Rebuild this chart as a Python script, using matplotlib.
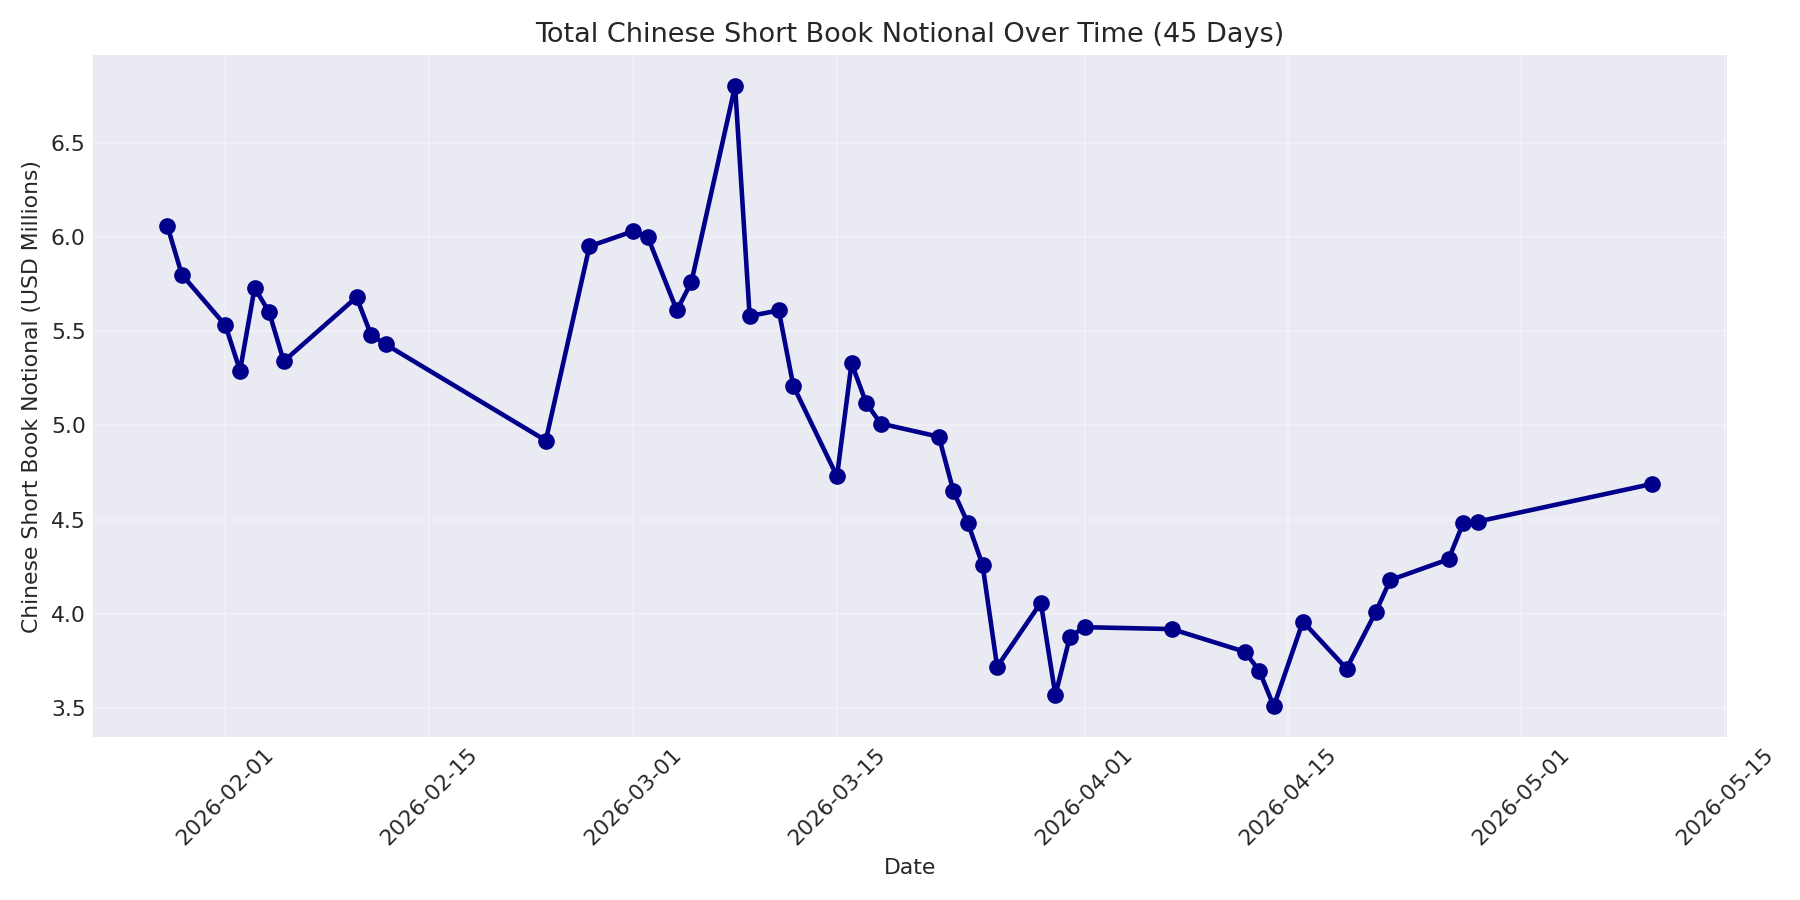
import matplotlib
matplotlib.use("Agg")
import matplotlib.pyplot as plt
import matplotlib.dates as mdates
import pandas as pd

dates = [
    "2026-01-28", "2026-01-29", "2026-02-01", "2026-02-02", "2026-02-03",
    "2026-02-04", "2026-02-05", "2026-02-10", "2026-02-11", "2026-02-12",
    "2026-02-23", "2026-02-26", "2026-03-01", "2026-03-02", "2026-03-04",
    "2026-03-05", "2026-03-08", "2026-03-09", "2026-03-11", "2026-03-12",
    "2026-03-15", "2026-03-16", "2026-03-17", "2026-03-18", "2026-03-22",
    "2026-03-23", "2026-03-24", "2026-03-25", "2026-03-26", "2026-03-29",
    "2026-03-30", "2026-03-31", "2026-04-01", "2026-04-07", "2026-04-12",
    "2026-04-13", "2026-04-14", "2026-04-16", "2026-04-19", "2026-04-21",
    "2026-04-22", "2026-04-26", "2026-04-27", "2026-04-28", "2026-05-10",
]
notional = [
    6.06, 5.80, 5.53, 5.29, 5.73,
    5.60, 5.34, 5.68, 5.48, 5.43,
    4.92, 5.95, 6.03, 6.00, 5.61,
    5.76, 6.80, 5.58, 5.61, 5.21,
    4.73, 5.33, 5.12, 5.01, 4.94,
    4.65, 4.48, 4.26, 3.72, 4.06,
    3.57, 3.88, 3.93, 3.92, 3.80,
    3.70, 3.51, 3.96, 3.71, 4.01,
    4.18, 4.29, 4.48, 4.49, 4.69,
]

x = pd.to_datetime(dates)

plt.style.use("seaborn-v0_8-darkgrid")
plt.rcParams["font.family"] = ["DejaVu Sans"]
fig, ax = plt.subplots(figsize=(12, 6), dpi=150)
ax.plot(x, notional, marker="o", linewidth=2.2, markersize=7, color="darkblue")
ax.set_title("Total Chinese Short Book Notional Over Time (45 Days)", fontsize=13)
ax.set_xlabel("Date", fontsize=10.5)
ax.set_ylabel("Chinese Short Book Notional (USD Millions)", fontsize=10.5)
ax.grid(True, alpha=0.3)
ax.xaxis.set_major_formatter(mdates.DateFormatter("%Y-%m-%d"))
plt.setp(ax.get_xticklabels(), rotation=45)
ax.tick_params(labelsize=10.5)
fig.tight_layout()
fig.savefig("out.png")
